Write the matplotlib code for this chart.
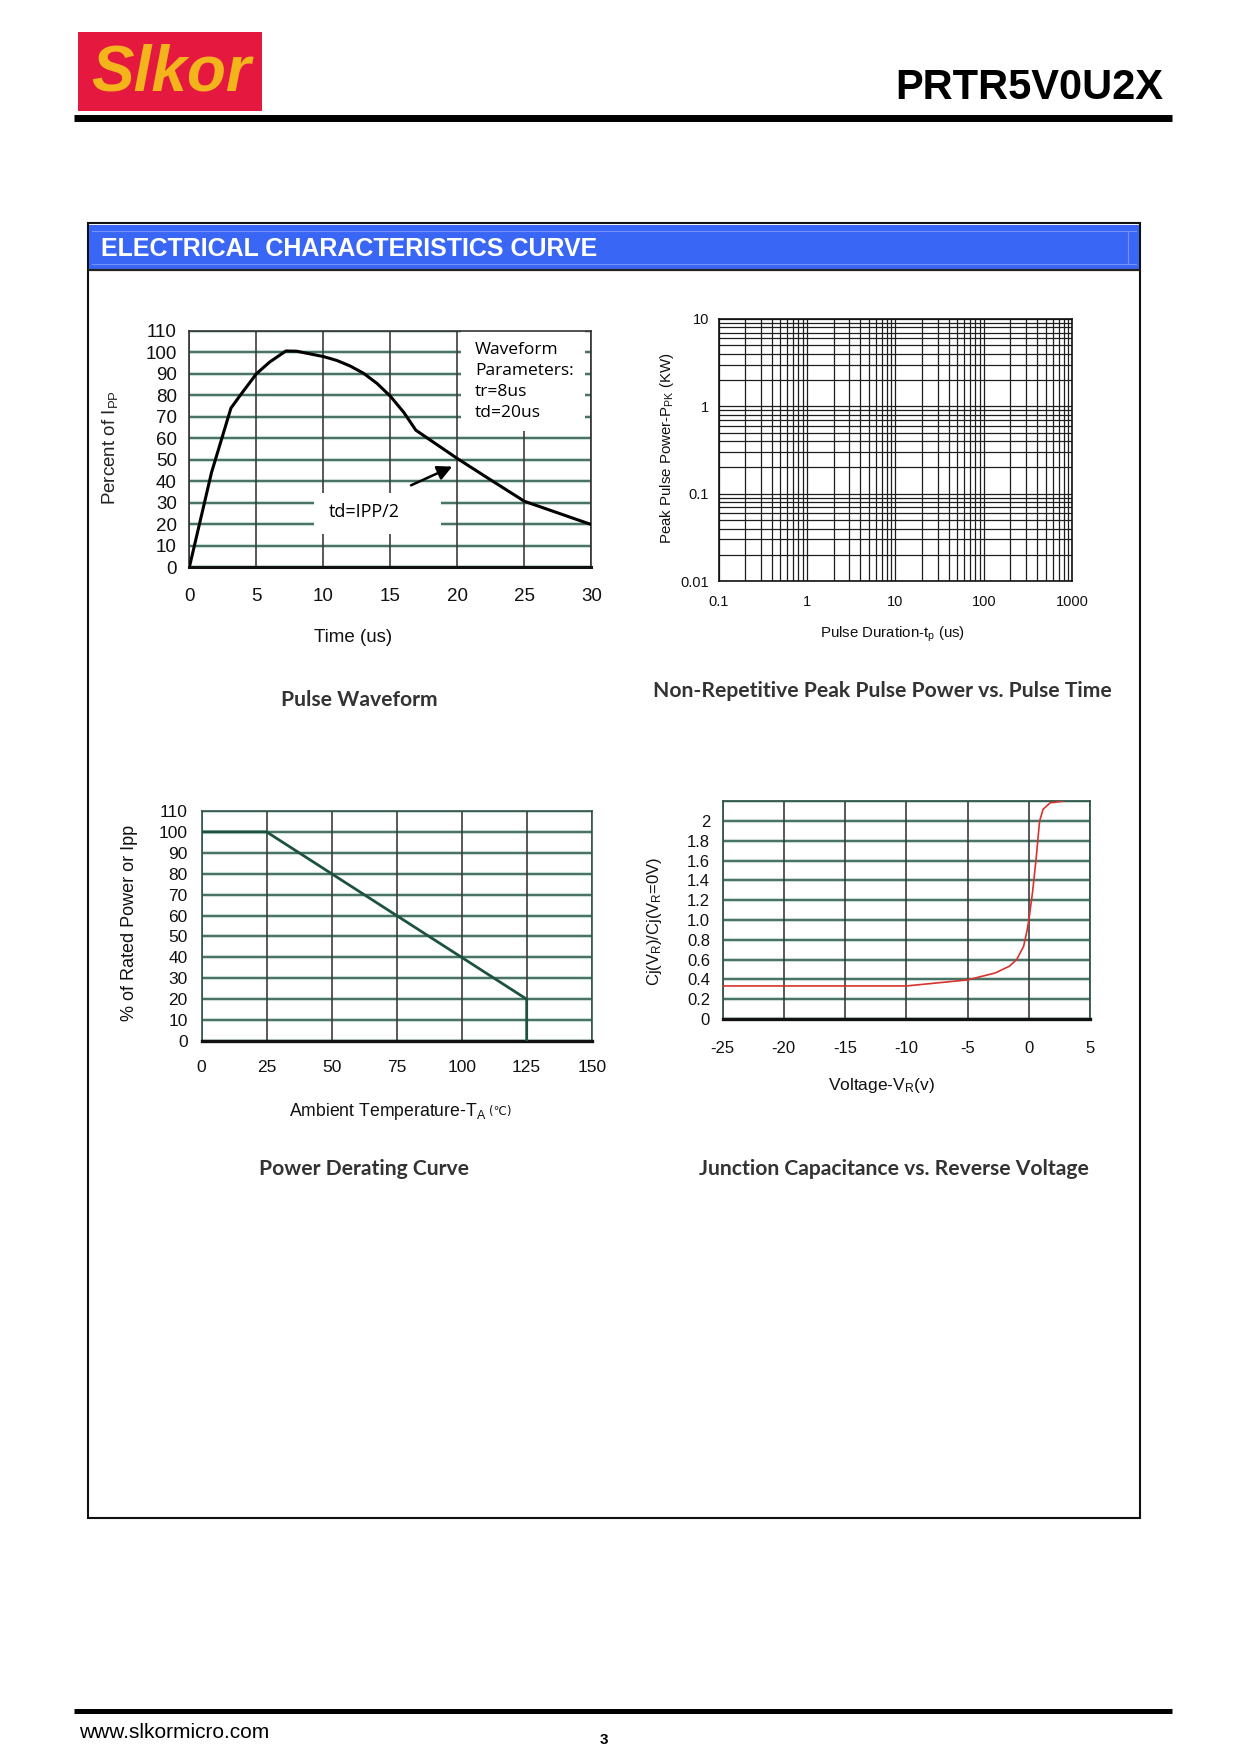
import matplotlib
matplotlib.use("Agg")
import matplotlib.pyplot as plt
import matplotlib.patheffects as pe
from matplotlib.patches import Rectangle
from matplotlib.ticker import NullFormatter

plt.rcParams['font.family'] = ['Liberation Sans', 'DejaVu Sans']

# ---- data ----
pulse_t = [0, 1.65, 3.1, 3.8, 5, 6, 7.2, 8, 10, 11, 12, 13, 14, 15, 16, 16.9, 20, 22.5, 25, 30]
pulse_pct = [0, 44, 74, 80, 90, 95.5, 100.6, 100.5, 98, 96.2, 93.6, 90.2, 85.5, 79.5, 72, 63.7,
             50.5, 40.5, 30.6, 19.75]
pulse_xticks = [0, 5, 10, 15, 20, 25, 30]
pulse_yticks = [0, 10, 20, 30, 40, 50, 60, 70, 80, 90, 100, 110]

ppk_xticks = [0.1, 1, 10, 100, 1000]
ppk_xlabels = ['0.1', '1', '10', '100', '1000']
ppk_yticks = [0.01, 0.1, 1, 10]
ppk_ylabels = ['0.01', '0.1', '1', '10']

derate_temp = [0, 25, 125, 125]
derate_pct = [100, 100, 20, 0]
derate_xticks = [0, 25, 50, 75, 100, 125, 150]
derate_yticks = [0, 10, 20, 30, 40, 50, 60, 70, 80, 90, 100, 110]

cap_v = [-25, -10, -5, -2.75, -1.6, -1.0, -0.43, -0.14, 0, 0.29, 0.58, 0.87, 1.16, 1.74, 2.75]
cap_ratio = [0.334, 0.334, 0.395, 0.465, 0.533, 0.60, 0.735, 0.90, 1.005, 1.275, 1.61, 2.0, 2.12, 2.185, 2.2]
cap_xticks = [-25, -20, -15, -10, -5, 0, 5]
cap_xlabels = ['-25', '-20', '-15', '-10', '-5', '0', '5']
cap_yticks = [0, 0.2, 0.4, 0.6, 0.8, 1.0, 1.2, 1.4, 1.6, 1.8, 2.0, 2.2]
cap_ylabels = ['0', '0.2', '0.4', '0.6', '0.8', '1.0', '1.2', '1.4', '1.6', '1.8', '2', '']

W, H = 1240, 1755
fig = plt.figure(figsize=(W / 100, H / 100), dpi=100)

# background axes in pixel coordinates
bg = fig.add_axes([0, 0, 1, 1])
bg.set_xlim(0, W)
bg.set_ylim(H, 0)
bg.axis('off')


def box(x0, y0, x1, y1):
    return fig.add_axes([x0 / W, 1 - y1 / H, (x1 - x0) / W, (y1 - y0) / H])


def grid_style(ax):
    # teal horizontal lines, dark grey vertical lines drawn on top of them
    ax.set_axisbelow(True)
    ax.yaxis.grid(True, color=HGRID, lw=1.2, path_effects=halo)
    ax.xaxis.grid(True, color=VGRID, lw=1.2)
    ax.xaxis.set_zorder(0.6)


HGRID = '#2f5f50'
VGRID = '#3c3c3c'
halo = [pe.Stroke(linewidth=3.0, foreground='#cadcd5'), pe.Normal()]
TITLE_FONT = ['Lato', 'DejaVu Sans']
TITLE_SIZE = 15.2

# ---- page header ----
bg.add_patch(Rectangle((78, 32), 184, 79, facecolor='#E5193F', edgecolor='none'))
bg.text(171, 73, 'Slkor', color='#F3B41C', fontsize=46, fontweight='bold',
        fontstyle='italic', ha='center', va='center')
bg.text(1163, 88, 'PRTR5V0U2X', fontsize=30, fontweight='bold', ha='right', va='center')
bg.plot([74, 1172], [118, 118], color='black', lw=5, solid_capstyle='butt')

# section frame
bg.add_patch(Rectangle((88, 223), 1052, 1295, facecolor='none', edgecolor='#111111', lw=1.5))
bg.add_patch(Rectangle((89, 225), 1050, 44, facecolor='#3a66f6', edgecolor='none'))
bg.plot([92, 1136], [231, 231], color='#7393f8', lw=0.8)
bg.plot([92, 1136], [264, 264], color='#7393f8', lw=0.8)
bg.plot([1128, 1128], [231, 264], color='#7393f8', lw=0.8)
bg.plot([89, 1139], [270, 270], color='#222222', lw=1.6)
bg.text(101, 249, 'ELECTRICAL CHARACTERISTICS CURVE', color='white', fontsize=18,
        fontweight='bold', ha='left', va='center')

# footer
bg.plot([74, 1172], [1711, 1711], color='black', lw=3.6, solid_capstyle='butt')
bg.text(79, 1733, 'www.slkormicro.com', fontsize=15, ha='left', va='center')
bg.text(604, 1740, '3', fontsize=11, fontweight='bold', ha='center', va='center')

# ---- chart 1: pulse waveform ----
ax1 = box(189.4, 330.8, 591.4, 567)
ax1.set_xlim(0, 30)
ax1.set_ylim(0, 110)
ax1.set_xticks(pulse_xticks)
ax1.set_yticks(pulse_yticks)
ax1.tick_params(length=0, labelsize=13.5, colors='#111111')
ax1.tick_params(axis='x', pad=15)
ax1.tick_params(axis='y', pad=9)
grid_style(ax1)
for s in ax1.spines.values():
    s.set_color('#333333')
    s.set_linewidth(1.2)
ax1.spines['bottom'].set_color('#111111')
ax1.spines['bottom'].set_linewidth(2.2)
ax1.add_patch(Rectangle((20.3, 63.3), 9.25, 46.7, facecolor='white', edgecolor='none', zorder=1))
ax1.add_patch(Rectangle((9.3, 15.5), 9.5, 19.0, facecolor='white', edgecolor='none', zorder=1))
ax1.plot(pulse_t, pulse_pct, color='black', lw=2.2, zorder=3)
ax1.text(21.3, 105.0, 'Waveform\nParameters:\ntr=8us\ntd=20us', family=['Open Sans', 'DejaVu Sans'],
         fontsize=12.5, linespacing=1.42, ha='left', va='top', zorder=4)
ax1.text(13.05, 25.4, 'td=IPP/2', family=['Open Sans', 'DejaVu Sans'], fontsize=13,
         ha='center', va='center', zorder=4)
ax1.annotate('', xy=(19.8, 47.3), xytext=(16.35, 37.5),
             arrowprops=dict(arrowstyle='-|>', color='black', lw=1.8, mutation_scale=22), zorder=4)

bg.text(110, 447.5, r'Percent of I$\mathregular{_{PP}}$', fontsize=13.5, rotation=90,
        ha='center', va='center', color='#222222')
bg.text(353, 637, 'Time (us)', fontsize=13.5, ha='center', va='center', color='#111111')
bg.text(359, 700, 'Pulse Waveform', family=TITLE_FONT, fontsize=TITLE_SIZE, fontweight='bold',
        ha='center', va='center', color='#333333')

# ---- chart 2: peak pulse power vs pulse time ----
ax2 = box(718.6, 319, 1072.2, 581.2)
ax2.set_xscale('log')
ax2.set_yscale('log')
ax2.set_xlim(0.1, 1000)
ax2.set_ylim(0.01, 10)
ax2.set_xticks(ppk_xticks)
ax2.set_xticklabels(ppk_xlabels)
ax2.set_yticks(ppk_yticks)
ax2.set_yticklabels(ppk_ylabels)
ax2.xaxis.set_minor_formatter(NullFormatter())
ax2.yaxis.set_minor_formatter(NullFormatter())
ax2.tick_params(which='both', length=0, labelsize=10.5, colors='#111111')
ax2.tick_params(axis='x', pad=10)
ax2.tick_params(axis='y', pad=7)
ax2.set_axisbelow(True)
ax2.grid(True, which='both', color='#1e1e1e', lw=0.9)
for s in ax2.spines.values():
    s.set_color('#111111')
    s.set_linewidth(1.2)

bg.text(667, 448, r'Peak Pulse Power-P$\mathregular{_{PK}}$ (KW)', fontsize=10.8, rotation=90,
        ha='center', va='center', color='#111111')
bg.text(893, 634, r'Pulse Duration-t$\mathregular{_p}$ (us)', fontsize=10.8,
        ha='center', va='center', color='#111111')
bg.text(882, 691, 'Non-Repetitive Peak Pulse Power vs. Pulse Time', family=TITLE_FONT,
        fontsize=TITLE_SIZE, fontweight='bold', ha='center', va='center', color='#333333')

# ---- chart 3: power derating ----
ax3 = box(201.6, 811, 591.7, 1041)
ax3.set_xlim(0, 150)
ax3.set_ylim(0, 110)
ax3.set_xticks(derate_xticks)
ax3.set_yticks(derate_yticks)
ax3.tick_params(length=0, labelsize=12.5, colors='#111111')
ax3.tick_params(axis='x', pad=13.5)
ax3.tick_params(axis='y', pad=10)
grid_style(ax3)
for s in ax3.spines.values():
    s.set_color('#33584c')
    s.set_linewidth(1.2)
ax3.spines['bottom'].set_color('#111111')
ax3.spines['bottom'].set_linewidth(2.4)
ax3.plot(derate_temp, derate_pct, color='#1d5140', lw=2.0, zorder=3)

bg.text(129, 923, '% of Rated Power or Ipp', fontsize=13, rotation=90,
        ha='center', va='center', color='#111111')
bg.text(486, 1111, r'Ambient Temperature-T$\mathregular{_A}$', fontsize=12.7,
        ha='right', va='center', color='#111111')
bg.text(489, 1111, '(℃)', family='DejaVu Sans', fontsize=8.5, ha='left', va='center', color='#111111')
bg.text(364, 1169, 'Power Derating Curve', family=TITLE_FONT, fontsize=TITLE_SIZE, fontweight='bold',
        ha='center', va='center', color='#333333')

# ---- chart 4: junction capacitance ----
ax4 = box(722.5, 801.3, 1090.2, 1019)
ax4.set_xlim(-25, 5)
ax4.set_ylim(0, 2.2)
ax4.set_xticks(cap_xticks)
ax4.set_xticklabels(cap_xlabels)
ax4.set_yticks(cap_yticks)
ax4.set_yticklabels(cap_ylabels)
ax4.tick_params(length=0, labelsize=12, colors='#111111')
ax4.tick_params(axis='x', pad=16)
ax4.tick_params(axis='y', pad=9)
grid_style(ax4)
for s in ax4.spines.values():
    s.set_color('#33584c')
    s.set_linewidth(1.3)
ax4.spines['bottom'].set_color('#111111')
ax4.spines['bottom'].set_linewidth(2.4)
ax4.plot(cap_v, cap_ratio, color='#d8332c', lw=1.2, zorder=3)

bg.text(654, 921.6, r'Cj(V$\mathregular{_R}$)/Cj(V$\mathregular{_R}$=0V)', fontsize=12, rotation=90,
        ha='center', va='center', color='#111111')
bg.text(881, 1085.5, r'Voltage-V$\mathregular{_R}$(v)', fontsize=12.5,
        ha='center', va='center', color='#111111')
bg.text(894, 1169, 'Junction Capacitance vs. Reverse Voltage', family=TITLE_FONT,
        fontsize=TITLE_SIZE, fontweight='bold', ha='center', va='center', color='#333333')

fig.savefig('out.png', dpi=100)
